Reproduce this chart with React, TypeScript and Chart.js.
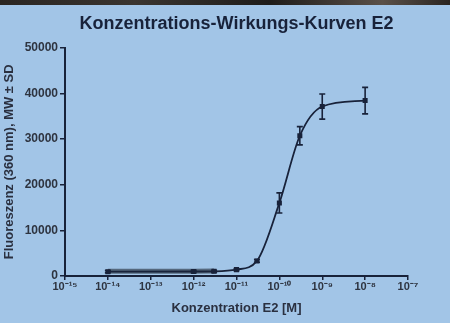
import React, { useEffect, useRef } from "react";
import { Chart, registerables } from "chart.js";

Chart.register(...registerables);

// Concentrations of E2 [M] and fluorescence (360 nm), mean ± SD
const concentrations = [1e-14, 1e-12, 3e-12, 1e-11, 3e-11, 1e-10, 3e-10, 1e-9, 1e-8];
const meanFluorescence = [950, 980, 1020, 1400, 3300, 16000, 30700, 37100, 38400];
const sdFluorescence = [250, 250, 250, 250, 300, 2200, 2000, 2750, 2900];

// shaded low-dose band (drawn behind the curve)
const bandConcentrations = [1e-14, 1e-12, 3e-12];
const bandValues = [1050, 1050, 1070];

const xTickValues = [1e-15, 1e-14, 1e-13, 1e-12, 1e-11, 1e-10, 1e-9, 1e-8, 1e-7];
const xTickLabels = ["10⁻¹⁵", "10⁻¹⁴", "10⁻¹³", "10⁻¹²", "10⁻¹¹", "10⁻¹⁰", "10⁻⁹", "10⁻⁸", "10⁻⁷"];
const yTickValues = [0, 10000, 20000, 30000, 40000, 50000];

const FONT = "'Liberation Sans', Arial, sans-serif";
const INK = "#18223a";
const BG = "rgb(162,197,231)";

const errorBarPlugin = {
  id: "errorBars",
  afterDatasetsDraw(chart: any) {
    const xs = chart.scales.x;
    const ys = chart.scales.y;
    const ctx = chart.ctx;
    ctx.save();
    ctx.strokeStyle = INK;
    ctx.lineWidth = 1.6;
    concentrations.forEach((c, i) => {
      const x = xs.getPixelForValue(c);
      const yT = ys.getPixelForValue(meanFluorescence[i] + sdFluorescence[i]);
      const yB = ys.getPixelForValue(meanFluorescence[i] - sdFluorescence[i]);
      ctx.beginPath();
      ctx.moveTo(x, yT);
      ctx.lineTo(x, yB);
      ctx.moveTo(x - 3, yT);
      ctx.lineTo(x + 3, yT);
      ctx.moveTo(x - 3, yB);
      ctx.lineTo(x + 3, yB);
      ctx.stroke();
    });
    ctx.restore();
  },
};

export default function App() {
  const ref = useRef<HTMLCanvasElement | null>(null);

  useEffect(() => {
    if (!ref.current) return;
    const chart = new Chart(ref.current, {
      type: "line",
      data: {
        datasets: [
          {
            label: "band",
            data: bandConcentrations.map((c, i) => ({ x: c, y: bandValues[i] })),
            borderColor: "#55687d",
            borderWidth: 5,
            pointRadius: 0,
            order: 2,
          },
          {
            label: "E2",
            data: concentrations.map((c, i) => ({ x: c, y: meanFluorescence[i] })),
            borderColor: INK,
            backgroundColor: INK,
            borderWidth: 1.8,
            cubicInterpolationMode: "monotone",
            pointStyle: "rect",
            pointRadius: 2.3,
            order: 1,
          },
        ],
      },
      options: {
        animation: false,
        responsive: false,
        layout: { padding: { left: 0, right: 42, top: 0, bottom: 0 } },
        plugins: {
          legend: { display: false },
          tooltip: { enabled: false },
          title: {
            display: true,
            text: "Konzentrations-Wirkungs-Kurven E2",
            color: INK,
            fullSize: false,
            font: { family: FONT, size: 18, weight: "bold" },
            padding: { top: 13, bottom: 13 },
          },
        },
        scales: {
          x: {
            type: "logarithmic",
            min: 1e-15,
            max: 1e-7,
            afterBuildTicks: (scale: any) => {
              scale.ticks = xTickValues.map((v) => ({ value: v }));
            },
            afterFit: (scale: any) => {
              scale.height = 47;
            },
            ticks: {
              autoSkip: false,
              maxRotation: 0,
              color: "#2e3440",
              padding: 0,
              font: { family: FONT, size: 11, weight: "bold" },
              callback: (value: any) => {
                const idx = xTickValues.findIndex((v) => Math.abs(Math.log10(v) - Math.log10(value)) < 1e-6);
                return idx >= 0 ? xTickLabels[idx] : "";
              },
            },
            grid: { drawOnChartArea: false, drawTicks: true, tickLength: 4, color: INK, lineWidth: 1.5 },
            border: { display: true, color: INK, width: 2 },
            title: {
              display: true,
              text: "Konzentration E2 [M]",
              color: "#2a3040",
              font: { family: FONT, size: 13, weight: "bold" },
              padding: { top: 0, bottom: 7 },
            },
          },
          y: {
            type: "linear",
            min: 0,
            max: 50000,
            afterBuildTicks: (scale: any) => {
              scale.ticks = yTickValues.map((v) => ({ value: v }));
            },
            afterFit: (scale: any) => {
              scale.width = 65;
            },
            ticks: {
              color: "#2e3440",
              padding: 2,
              font: { family: FONT, size: 12, weight: "bold" },
              callback: (value: any) => String(value),
            },
            grid: { drawOnChartArea: false, drawTicks: true, tickLength: 5, color: INK, lineWidth: 1.5 },
            border: { display: true, color: INK, width: 2 },
            title: {
              display: true,
              text: "Fluoreszenz (360 nm), MW ± SD",
              color: "#2a3040",
              font: { family: FONT, size: 13, weight: "bold" },
              padding: { top: 2, bottom: 0 },
            },
          },
        },
      },
      plugins: [errorBarPlugin],
    });
    return () => chart.destroy();
  }, []);

  return (
    <div
      style={{
        position: "fixed",
        left: 0,
        top: 0,
        width: 450,
        height: 323,
        background: BG,
        overflow: "hidden",
      }}
    >
      <div
        style={{
          position: "absolute",
          left: 0,
          top: 0,
          width: 450,
          height: 5,
          background: "linear-gradient(90deg, #2a2622 0%, #3a3530 30%, #1e1c1a 60%, #5a5048 85%, #2a2420 100%)",
        }}
      />
      <canvas ref={ref} width={450} height={323} style={{ position: "absolute", left: 0, top: 0 }} />
    </div>
  );
}
